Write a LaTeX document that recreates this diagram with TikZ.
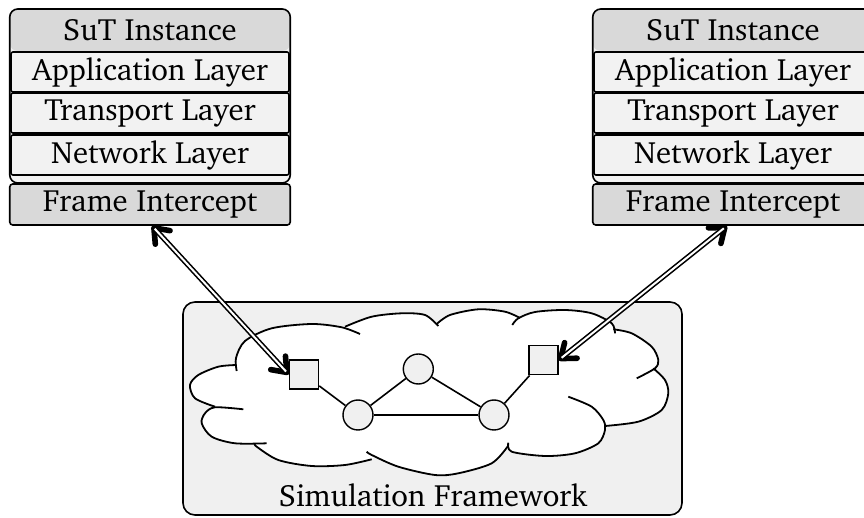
\documentclass[tikz,border=0pt]{standalone}
\usepackage[T1]{fontenc}
\usepackage{charter}
\usetikzlibrary{arrows.meta}
\definecolor{hdgray}{HTML}{D9D9D9}
\definecolor{lygray}{HTML}{F2F2F2}
\definecolor{bggray}{HTML}{F0F0F0}

% cloud outline: one smooth stroke per puff, tails included
\newcommand\cloudlobes[1]{%
  #1{(215,406.7) (195,398.3) (190,385) (198.3,375) (218.3,366.7) (236.7,365)}%
  #1{(236.7,371) (236,358) (245,341) (271.7,328.3) (311.7,324) (341.7,327.3) (360,334)}%
  #1{(345,326.7) (371.7,316.7) (401.7,313.3) (425,315) (438.3,326)}%
  #1{(436.7,324) (450,315) (478.3,309.3) (505,311.7) (520,318)}%
  #1{(512.3,325) (518.3,318.3) (535,312) (565,310) (591.7,313.3) (611.7,323.3) (615,333.3)}%
  #1{(613.3,329.3) (631.7,333.3) (651.7,346.7) (658.3,360) (655,368.3) (636.7,378.3)}%
  #1{(653.3,368.3) (665,380) (668.3,393.3) (661.7,410) (638.3,421.7) (605,426)}%
  #1{(568.3,396.7) (591.7,406.7) (603.3,420) (605,430) (598.3,443.3) (575,453.3) (545,456) (511.7,451.7) (508.3,442.7)}%
  #1{(508,446) (491.7,463.3) (458.3,473.3) (435,475) (398.3,466.7) (371.7,455) (366.7,451.7)}%
  #1{(371.7,459.3) (345,465) (311.7,466) (278.3,460) (256.7,446.7) (255,444)}%
  #1{(266.7,443.3) (235,443.3) (211.7,436.7) (201.7,423.3) (205,413.3) (215,407.3) (243.3,409.3)}%
}
\newcommand\lobefill[1]{\fill[white] (430,390) -- plot[smooth] coordinates {#1} -- cycle;}
\newcommand\lobedraw[1]{\draw[cloudline] plot[smooth] coordinates {#1};}

\begin{document}
\begin{tikzpicture}[x=0.5pt,y=-0.5pt,
  lbl/.style={font=\fontsize{15.4}{18}\selectfont},
  stackbox/.style={draw, line width=0.8pt, fill=lygray, rounded corners=4pt,
    minimum width=140.25pt, minimum height=87pt, inner sep=0pt,
    path picture={\fill[hdgray] (path picture bounding box.north west) rectangle
      ([yshift=-21pt]path picture bounding box.north east);}},
  layerbox/.style={draw, line width=0.8pt, fill=lygray, rounded corners=1pt,
    minimum width=139pt, minimum height=20pt, inner sep=0pt, lbl},
  fibox/.style={draw, line width=0.8pt, fill=hdgray, rounded corners=1.5pt,
    minimum width=140.25pt, minimum height=20.5pt, inner sep=0pt, lbl},
  simbox/.style={draw, line width=0.8pt, fill=bggray, rounded corners=6pt,
    minimum width=249.5pt, minimum height=106.5pt, inner sep=0pt},
  switchbox/.style={draw, line width=0.7pt, fill=bggray, minimum size=14.5pt, inner sep=0pt},
  hostnode/.style={draw, line width=0.7pt, fill=bggray, circle, minimum size=15pt, inner sep=0pt},
  link/.style={line width=0.8pt},
  cloudline/.style={line width=0.9pt, line join=round},
  barb/.tip={Straight Barb[length=6.5pt,width=10pt,line width=2.8pt,round]},
  % bold barbs at both ends, with a double shaft laid over the plain line
  tapbase/.style={line width=2pt, barb-barb},
  tapshaft/.style={double, line width=0.8pt, double distance=1pt,
    shorten <=2pt, shorten >=2pt}
]
\useasboundingbox (0,0) rectangle (864,518);

% protocol stacks of the two SuT instances
\foreach \side/\cx in {L/150, R/733} {
  \node[stackbox] (stack\side) at (\cx,96) {};
  \node[lbl] (hd\side) at (\cx,30) {SuT Instance};
  \node[layerbox] (app\side) at (\cx,72) {Application Layer};
  \node[layerbox] (tra\side) at (\cx,113) {Transport Layer};
  \node[layerbox] (net\side) at (\cx,155) {Network Layer};
  \node[fibox] (fi\side) at (\cx,204.5) {Frame Intercept};
}

% simulation framework with the simulated network cloud
\node[simbox] (sim) at (432.5,408.5) {};
\node[lbl, anchor=base] (simlbl) at (433,507) {Simulation Framework};

\fill[white] (236.7,366) -- (345,327) -- (437,325) -- (516,321) -- (613,330)
  -- (653,368) -- (605,427) -- (507,447) -- (371.7,457) -- (255,444) -- (215,407) -- cycle;
\cloudlobes\lobefill
\cloudlobes\lobedraw

% simulated topology
\node[switchbox] (swL) at (304,374.5) {};
\node[hostnode] (h1) at (358,415) {};
\node[hostnode] (h2) at (418.3,369) {};
\node[hostnode] (h3) at (494,415) {};
\node[switchbox] (swR) at (543.3,360.3) {};

\draw[link] (swL) -- (h1);
\draw[link] (h1) -- (h2);
\draw[link] (h1) -- (h3);
\draw[link] (h2) -- (h3);
\draw[link] (h3) -- (swR);

% frame intercept links
\draw[tapbase] ([xshift=1pt]fiL.south) -- (swL.west);
\draw[tapshaft] ([xshift=1pt]fiL.south) -- (swL.west);
\draw[tapbase] ([xshift=-3pt]fiR.south) -- (swR.east);
\draw[tapshaft] ([xshift=-3pt]fiR.south) -- (swR.east);
\end{tikzpicture}
\end{document}
